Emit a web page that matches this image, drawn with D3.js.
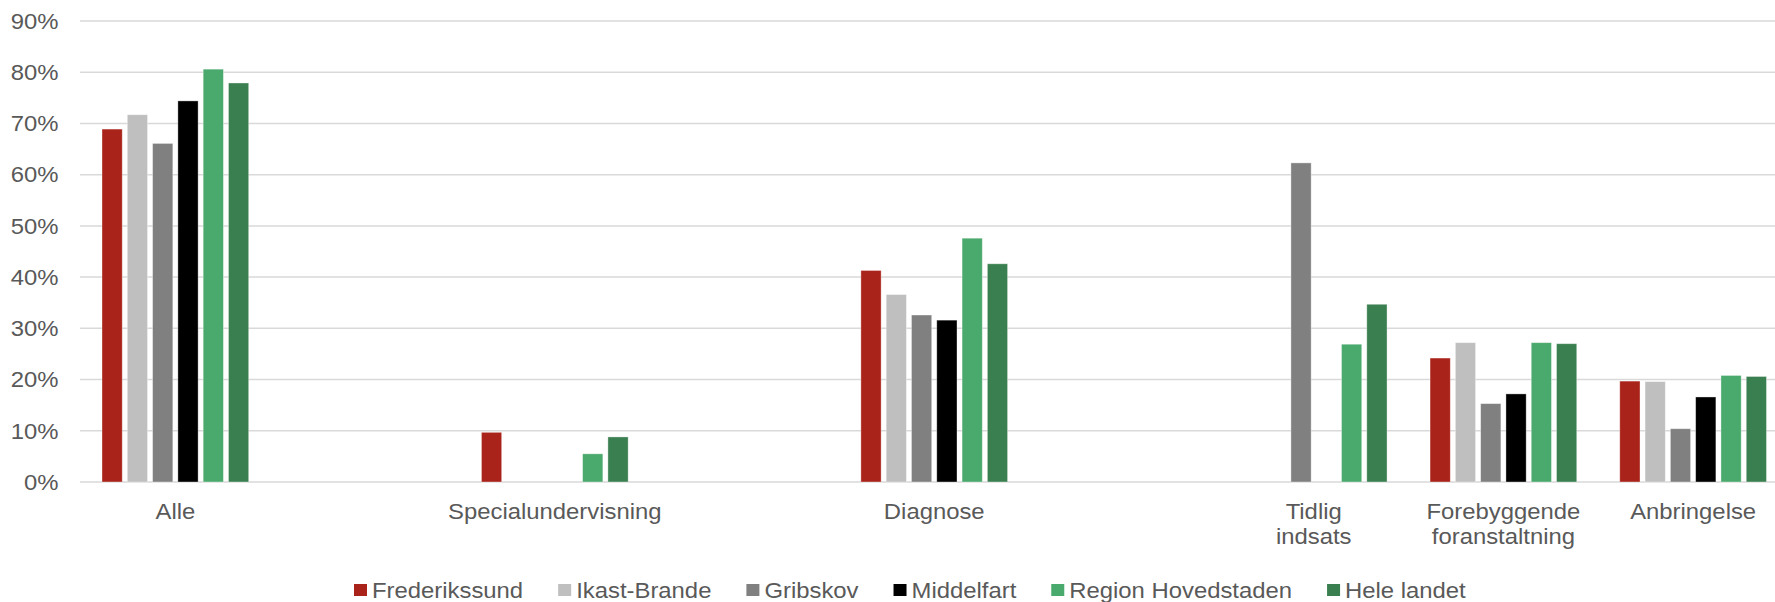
<!DOCTYPE html>
<html>
<head>
<meta charset="utf-8">
<script src="https://cdn.jsdelivr.net/npm/d3@7"></script>
<style>
  html, body { margin: 0; padding: 0; background: #fff; }
  svg { display: block; }
  text { font-family: "Liberation Sans", Arial, sans-serif; fill: #595959; }
</style>
</head>
<body>
<svg id="chart" width="1775" height="602"></svg>
<script>
// Categories (empty strings are unlabeled gap slots in the original)
const categories = ["Alle", "", "Specialundervisning", "", "Diagnose", "", "Tidlig\nindsats", "Forebyggende\nforanstaltning", "Anbringelse"];
const seriesNames = ["Frederikssund", "Ikast-Brande", "Gribskov", "Middelfart", "Region Hovedstaden", "Hele landet"];
const seriesColors = ["#A9231A", "#BFBFBF", "#808080", "#000000", "#4AA96C", "#3A7F50"];

// Values in percent, one array per series (null = no bar)
const frederikssund     = [68.9, null, 9.7, null, 41.3, null, null, 24.2, 19.7];
const ikastBrande       = [71.7, null, null, null, 36.6, null, null, 27.2, 19.6];
const gribskov          = [66.1, null, null, null, 32.6, null, 62.3, 15.3, 10.4];
const middelfart        = [74.4, null, null, null, 31.6, null, null, 17.2, 16.6];
const regionHovedstaden = [80.6, null, 5.5, null, 47.6, null, 26.9, 27.2, 20.8];
const heleLandet        = [77.9, null, 8.8, null, 42.6, null, 34.7, 27.0, 20.6];
const seriesValues = [frederikssund, ikastBrande, gribskov, middelfart, regionHovedstaden, heleLandet];

const yTicks = [0, 10, 20, 30, 40, 50, 60, 70, 80, 90];

const svg = d3.select("#chart");
const FS = 21.5, SX = 1.11;

const x0 = d3.scaleBand().domain(d3.range(categories.length)).range([80.5, 1788]).padding(0);
const x1 = d3.scaleBand().domain(seriesNames).range([21.5, 168.2]).paddingInner(0.2).paddingOuter(0);
const y = d3.scaleLinear().domain([0, 90]).range([482, 21]);

// gridlines
svg.append("g").selectAll("line").data(yTicks).join("line")
  .attr("x1", 80).attr("x2", 1775)
  .attr("y1", d => y(d)).attr("y2", d => y(d))
  .attr("stroke", "#D9D9D9").attr("stroke-width", 1.5);

// y tick labels
svg.append("g").selectAll("text").data(yTicks).join("text")
  .attr("transform", d => `translate(58.5,${y(d)}) scale(${SX},1)`)
  .attr("text-anchor", "end").attr("dy", "0.36em")
  .style("font-size", FS + "px")
  .text(d => d + "%");

// bars
const groups = svg.append("g").selectAll("g").data(categories).join("g")
  .attr("transform", (d, i) => `translate(${x0(i)},0)`);
groups.selectAll("rect")
  .data((d, i) => seriesNames.map((s, k) => ({ s, k, v: seriesValues[k][i] })).filter(o => o.v != null))
  .join("rect")
  .attr("x", o => x1(o.s))
  .attr("width", x1.bandwidth())
  .attr("y", o => y(o.v))
  .attr("height", o => y(0) - y(o.v))
  .attr("fill", o => seriesColors[o.k])
  .attr("stroke", "rgba(255,255,255,0.45)").attr("stroke-width", 0.8);

// x labels
const xl = svg.append("g").selectAll("text").data(categories).join("text")
  .attr("transform", (d, i) => `translate(${x0(i) + x0.bandwidth() / 2},518.5) scale(${SX},1)`)
  .attr("text-anchor", "middle")
  .style("font-size", FS + "px");
xl.selectAll("tspan").data(d => d ? d.split("\n") : []).join("tspan")
  .attr("x", 0).attr("dy", (d, j) => j === 0 ? 0 : 25.5)
  .text(d => d);

// legend
const legend = svg.append("g");
let lx = 354;
seriesNames.forEach((s, k) => {
  legend.append("rect").attr("x", lx).attr("y", 584).attr("width", 13).attr("height", 12)
    .attr("fill", seriesColors[k]);
  const t = legend.append("text")
    .attr("transform", `translate(${lx + 18},597.5) scale(${SX},1)`)
    .style("font-size", FS + "px").text(s);
  const w = t.node().getComputedTextLength() * SX;
  lx += 18 + w + 35;
});
</script>
</body>
</html>
